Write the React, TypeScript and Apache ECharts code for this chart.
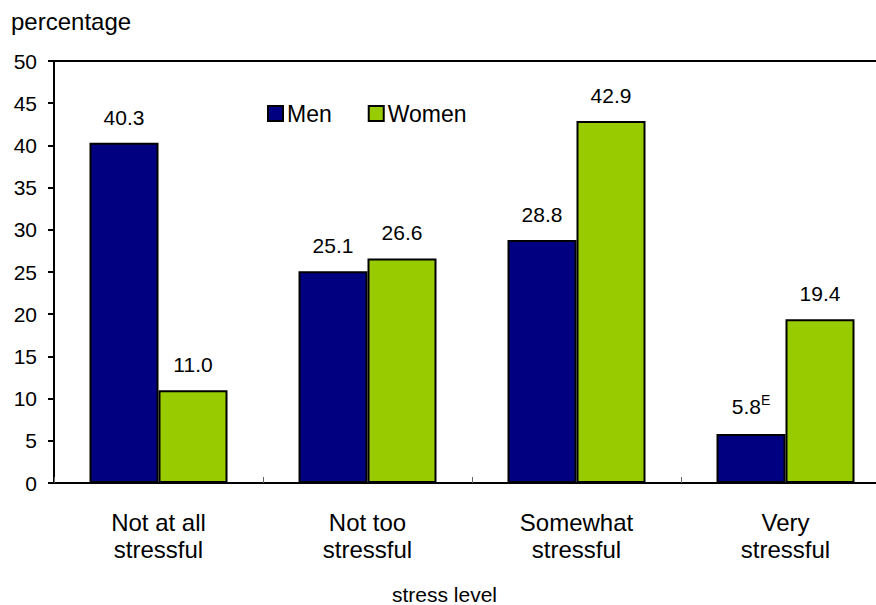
import React, { useEffect, useRef } from "react";
import * as echarts from "echarts";

const categories = ["Not at all\nstressful", "Not too\nstressful", "Somewhat\nstressful", "Very\nstressful"];
const menValues = [40.3, 25.1, 28.8, 5.8];
const womenValues = [11.0, 26.6, 42.9, 19.4];
const menFlags = ["", "", "", "E"];
const womenFlags = ["", "", "", ""];
const yTicks = { min: 0, max: 50, interval: 5 };

const FONT = "'Liberation Sans', Arial, sans-serif";

function labelFor(flags: string[]) {
  return (p: any) => {
    const v = (p.value as number).toFixed(1);
    const f = flags[p.dataIndex];
    return f ? `{v|${v}}{sup|${f}}` : `{v|${v}}`;
  };
}

export default function App() {
  const ref = useRef<HTMLDivElement>(null);
  useEffect(() => {
    const chart = echarts.init(ref.current!, undefined, { renderer: "svg" });
    const labelCommon = {
      show: true,
      position: "top",
      distance: 15,
      color: "#000",
      fontFamily: FONT,
      fontSize: 21,
      rich: {
        v: { fontFamily: FONT, fontSize: 21, color: "#000" },
        sup: { fontFamily: FONT, fontSize: 14, color: "#000", verticalAlign: "top", padding: [0, 0, 12, 0] },
      },
    };
    chart.setOption({
      animation: false,
      textStyle: { fontFamily: FONT },
      grid: {
        left: 54,
        top: 61,
        width: 836,
        height: 422,
        containLabel: false,
        outerBoundsMode: "none",
        show: true,
        borderColor: "#000",
        borderWidth: 2,
        backgroundColor: "transparent",
      },
      graphic: [
        {
          type: "text",
          left: 11,
          top: 9,
          style: { text: "percentage", fontFamily: FONT, fontSize: 24, fill: "#000" },
        },
        {
          type: "text",
          left: 392,
          top: 584,
          style: { text: "stress level", fontFamily: FONT, fontSize: 21, fill: "#000" },
        },
      ],
      legend: {
        left: 262,
        top: 97,
        itemWidth: 15,
        itemHeight: 15,
        itemGap: 36,
        textStyle: { fontFamily: FONT, fontSize: 23, color: "#000", padding: [0, 0, 0, -1] },
        data: [
          { name: "Men", icon: "rect", itemStyle: { borderColor: "#000", borderWidth: 2 } },
          { name: "Women", icon: "rect", itemStyle: { borderColor: "#000", borderWidth: 2 } },
        ],
      },
      xAxis: {
        type: "category",
        data: categories,
        axisLine: { lineStyle: { color: "#000", width: 2 } },
        axisTick: { show: true, inside: true, length: 6, lineStyle: { color: "#666", width: 1 } },
        axisLabel: {
          color: "#000",
          fontFamily: FONT,
          fontSize: 24,
          lineHeight: 27,
          margin: 26,
        },
      },
      yAxis: {
        type: "value",
        min: yTicks.min,
        max: yTicks.max,
        interval: yTicks.interval,
        splitLine: { show: false },
        axisLine: { show: true, lineStyle: { color: "#000", width: 2 } },
        axisTick: { show: true, length: 6, lineStyle: { color: "#000", width: 2 } },
        axisLabel: { color: "#000", fontFamily: FONT, fontSize: 21, margin: 17 },
      },
      series: [
        {
          name: "Men",
          type: "bar",
          data: menValues,
          barWidth: 69,
          barGap: "0%",
          itemStyle: { color: "#000080", borderColor: "#000", borderWidth: 2 },
          label: { ...labelCommon, formatter: labelFor(menFlags) },
        },
        {
          name: "Women",
          type: "bar",
          data: womenValues,
          barWidth: 69,
          barGap: "0%",
          itemStyle: { color: "#99CC00", borderColor: "#000", borderWidth: 2 },
          label: { ...labelCommon, formatter: labelFor(womenFlags) },
        },
      ],
    });
    return () => chart.dispose();
  }, []);
  return <div ref={ref} style={{ width: 876, height: 605, position: "absolute", left: 0, top: 0 }} />;
}
